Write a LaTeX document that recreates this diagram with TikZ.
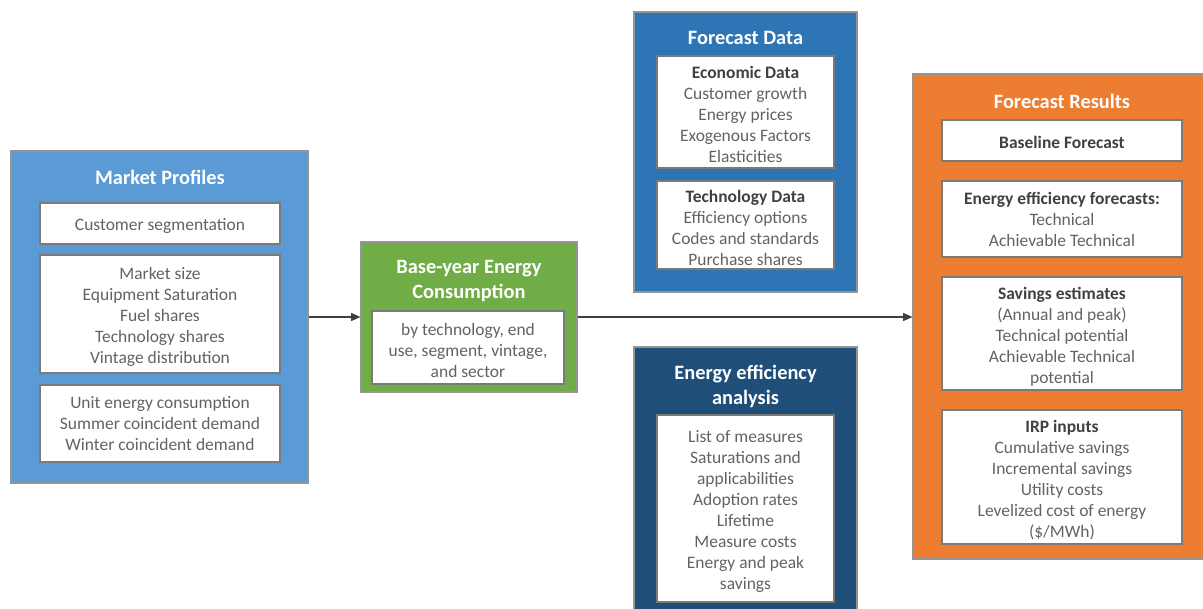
\documentclass[tikz,border=0pt]{standalone}
\usepackage{fontspec}
\setmainfont{Carlito}
\usetikzlibrary{arrows.meta}

\definecolor{mpblue}{HTML}{5B9BD5}
\definecolor{bygreen}{HTML}{70AD47}
\definecolor{fdblue}{HTML}{2E75B6}
\definecolor{eenavy}{HTML}{1F4E79}
\definecolor{frorange}{HTML}{ED7D31}
\definecolor{bodygray}{HTML}{636363}
\definecolor{headgray}{HTML}{404040}
\definecolor{framegray}{HTML}{7A7A7A}

\newcommand{\px}[1]{#1*0.75pt}
\newcommand{\ts}{\rule{0pt}{13.5pt}}

\tikzset{
    panel/.style={draw=framegray!80, line width=0.8pt, inner sep=0pt},
    paneltitle/.style={text=white, font=\fontsize{15.3}{18.75}\selectfont\bfseries,
        align=center, inner sep=0pt},
    itembox/.style={draw=framegray, line width=1.5pt, fill=white, inner sep=0pt,
        align=center, text=bodygray, font=\fontsize{13.1}{15.75}\selectfont},
    oneline/.style={execute at begin node={\rule{0pt}{12.5pt}}},
    flow/.style={draw=headgray, line width=0.8pt, -{Triangle[length=7pt,width=6pt]}}
}
\newcommand{\hd}[1]{\textcolor{headgray}{\bfseries #1}}

\begin{document}
\begin{tikzpicture}[x=0.75pt, y=-0.75pt]
    \useasboundingbox (0,0) rectangle (1203,609);

    % market profiles
    \node[panel, fill=mpblue, minimum width=\px{297}, minimum height=\px{332}] (mp) at (159.5,317) {};
    \node[paneltitle] (mptitle) at (160,177) {Market Profiles};
    \node[itembox, oneline, minimum width=\px{240}, minimum height=\px{41}] (mpseg) at (160,223.5)
        {Customer segmentation};
    \node[itembox, minimum width=\px{240}, minimum height=\px{118}] (mpsize) at (160,314)
        {\ts Market size\\Equipment Saturation\\Fuel shares\\Technology shares\\Vintage distribution};
    \node[itembox, minimum width=\px{240}, minimum height=\px{77}] (mpunit) at (160,423.5)
        {Unit energy consumption\\Summer coincident demand\\Winter coincident demand};

    % base-year
    \node[panel, fill=bygreen, minimum width=\px{216}, minimum height=\px{150}] (by) at (469,317) {};
    \node[paneltitle] (bytitle) at (469,281) {Base-year Energy\\Consumption};
    \node[itembox, minimum width=\px{192}, minimum height=\px{73}] (byitem) at (468,347.5)
        {\ts by technology, end\\use, segment, vintage,\\and sector};

    % forecast data
    \node[panel, fill=fdblue, minimum width=\px{223}, minimum height=\px{280}] (fd) at (745.5,152) {};
    \node[paneltitle] (fdtitle) at (745.5,38) {Forecast Data};
    \node[itembox, minimum width=\px{177}, minimum height=\px{112}] (fdecon) at (745.5,112)
        {\ts\hd{Economic Data}\\Customer growth\\Energy prices\\Exogenous Factors\\Elasticities};
    \node[itembox, minimum width=\px{177}, minimum height=\px{88}] (fdtech) at (745.5,225)
        {\ts\hd{Technology Data}\\Efficiency options\\Codes and standards\\Purchase shares};

    % energy efficiency analysis
    \node[panel, fill=eenavy, minimum width=\px{223}, minimum height=\px{266}] (ee) at (745.5,480) {};
    \node[paneltitle] (eetitle) at (745.5,386) {Energy efficiency\\analysis};
    \node[itembox, minimum width=\px{177}, minimum height=\px{187}] (eeitem) at (745.5,508.5)
        {\ts List of measures\\Saturations and\\applicabilities\\Adoption rates\\Lifetime\\Measure costs\\Energy and peak\\savings};

    % forecast results
    \node[panel, fill=frorange, minimum width=\px{295}, minimum height=\px{485}] (fr) at (1060.5,316.5) {};
    \node[paneltitle] (frtitle) at (1062,101) {Forecast Results};
    \node[itembox, oneline, minimum width=\px{240}, minimum height=\px{41}] (frbase) at (1062,140.5)
        {\hd{Baseline Forecast}};
    \node[itembox, minimum width=\px{240}, minimum height=\px{76}] (free) at (1062,219)
        {\hd{Energy efficiency forecasts:}\\Technical\\Achievable Technical};
    \node[itembox, minimum width=\px{240}, minimum height=\px{113}] (frsave) at (1062,333.5)
        {\ts\hd{Savings estimates}\\(Annual and peak)\\Technical potential\\Achievable Technical\\potential};
    \node[itembox, minimum width=\px{240}, minimum height=\px{134}] (frirp) at (1062,477)
        {\ts\hd{IRP inputs}\\Cumulative savings\\Incremental savings\\Utility costs\\Levelized cost of energy\\(\$/MWh)};

    \draw[flow] (mp.east) -- (by.west);
    \draw[flow] (by.east) -- (by.east -| fr.west);
\end{tikzpicture}
\end{document}
